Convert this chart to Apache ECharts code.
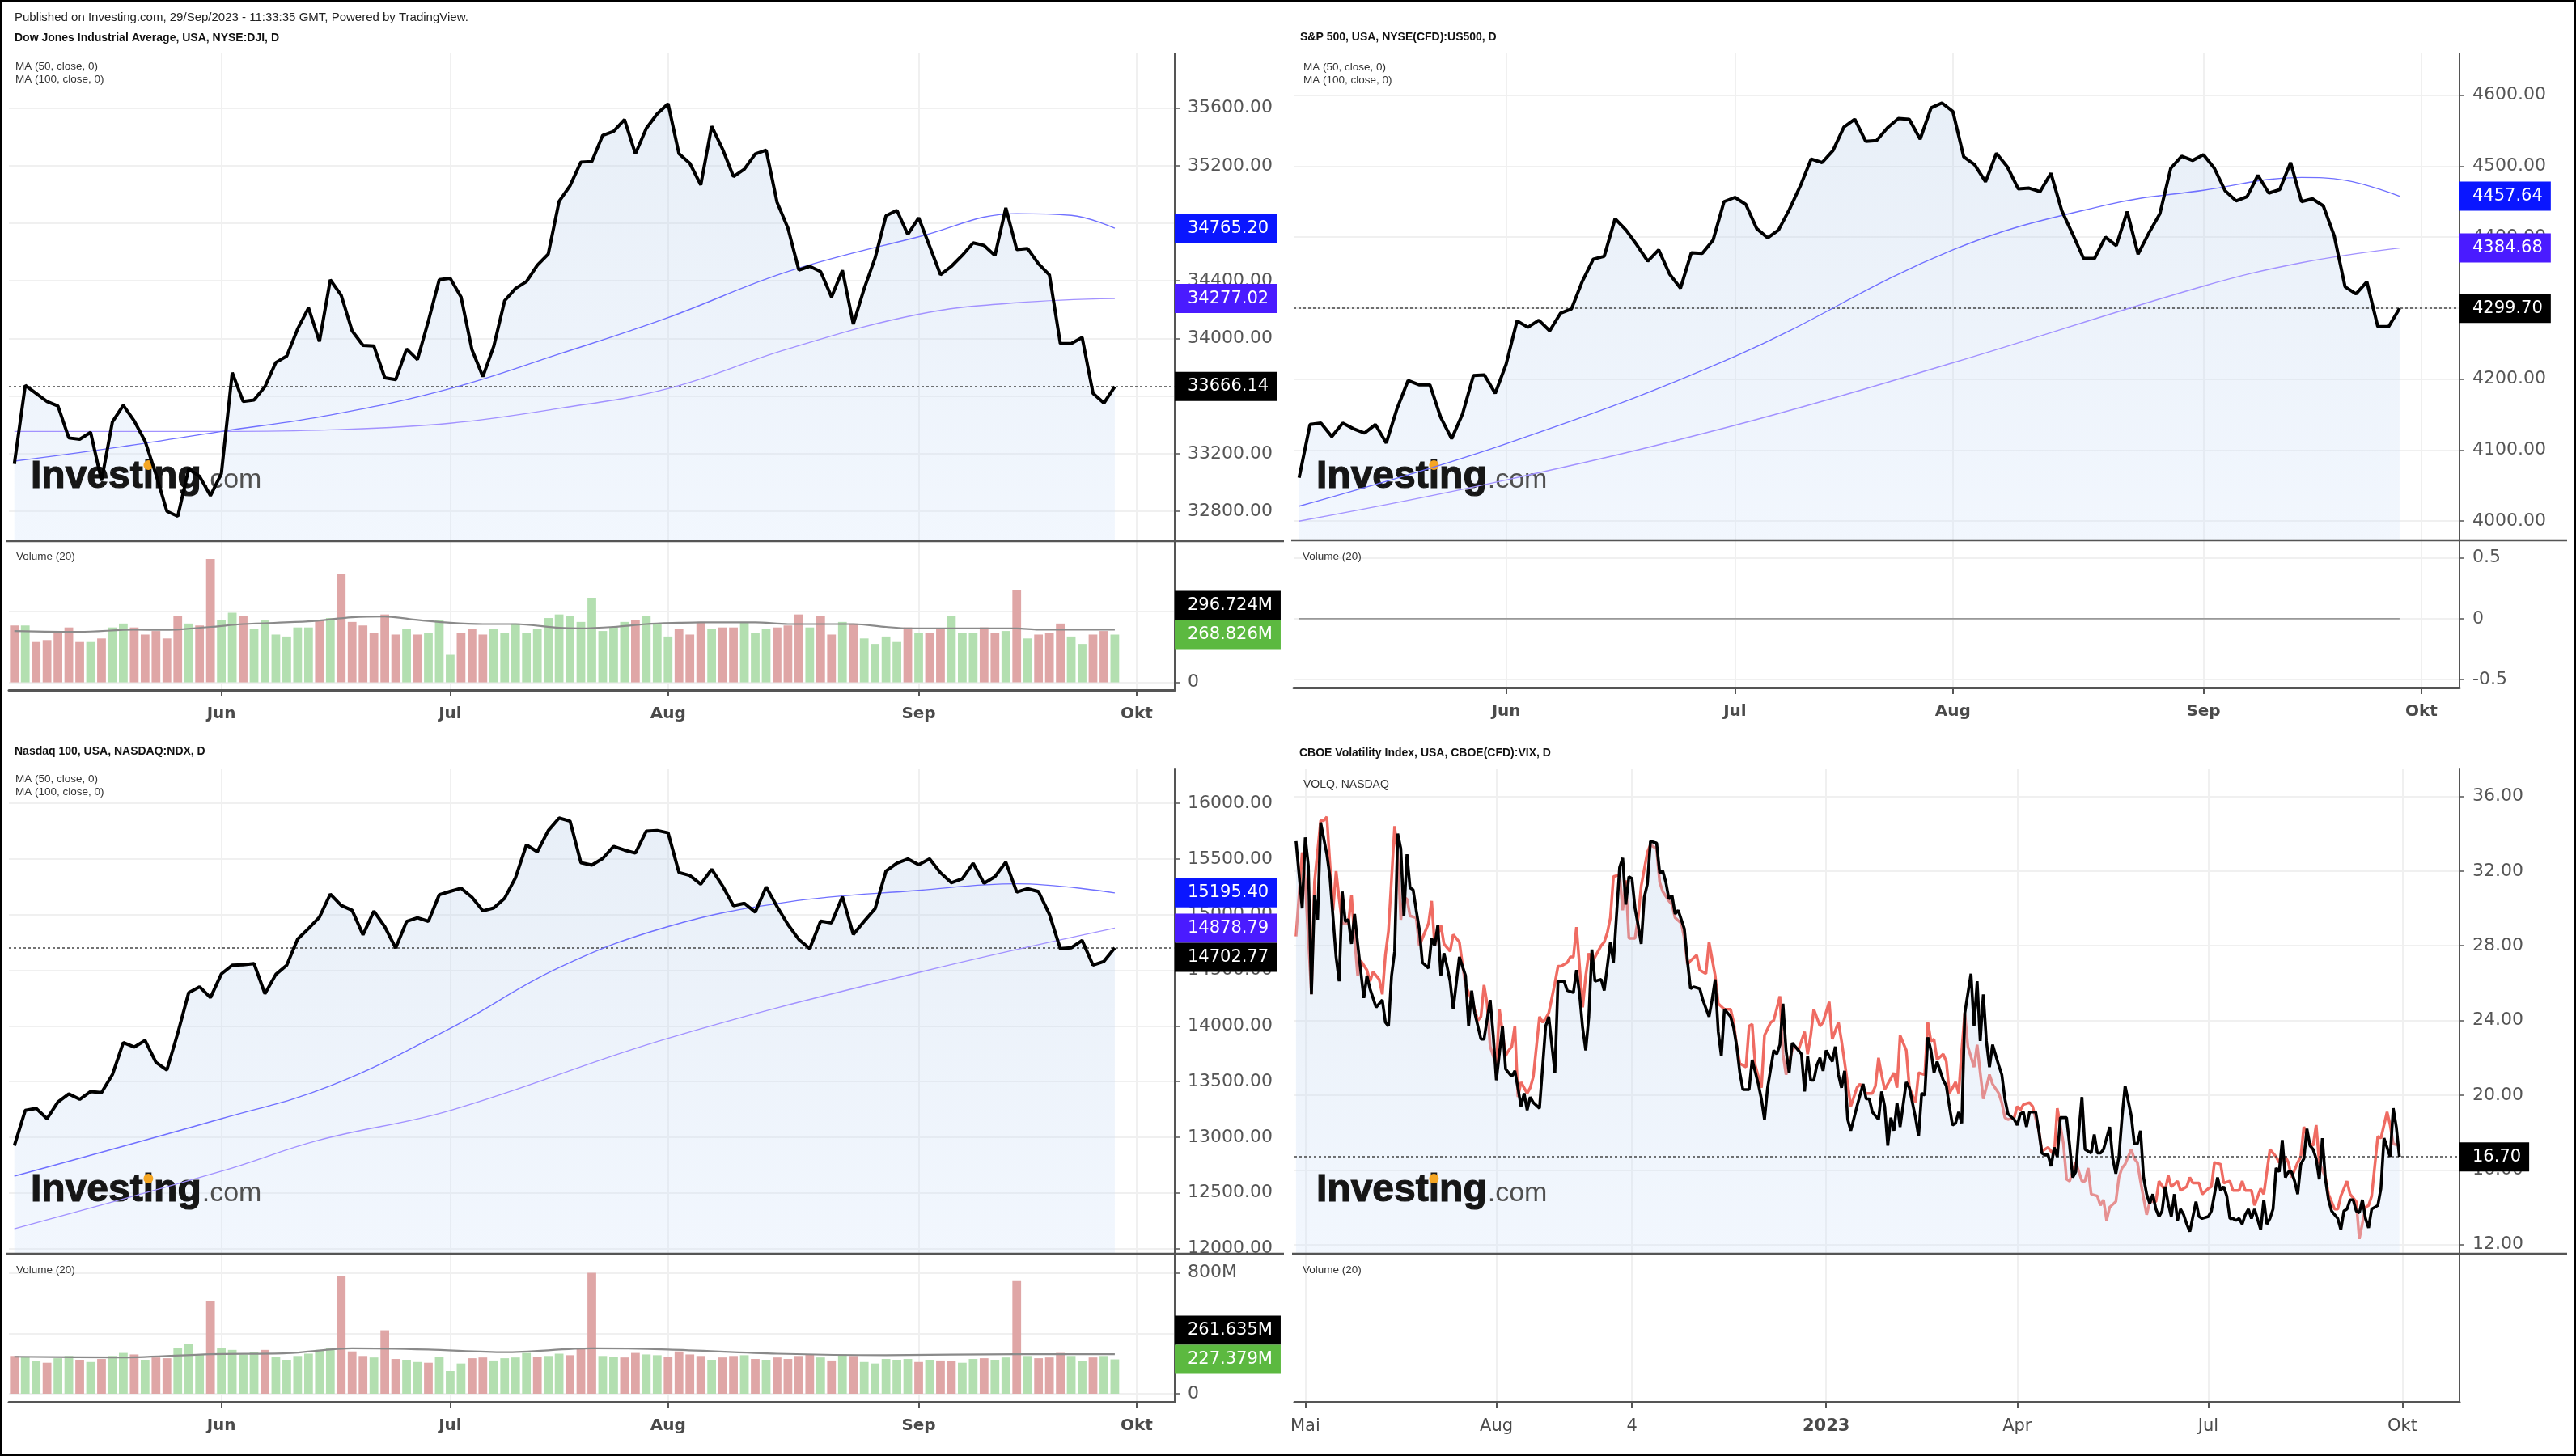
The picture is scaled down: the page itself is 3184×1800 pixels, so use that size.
<!DOCTYPE html>
<html><head><meta charset="utf-8"><title>Indices</title>
<script src="https://cdn.jsdelivr.net/npm/echarts@6.0.0/dist/echarts.min.js"></script>
<style>html,body{margin:0;padding:0;background:#fff;}#chart{width:3184px;height:1800px;}</style>
</head><body><div id="chart"></div>
<script>
// ---------------- DATA ----------------
const MONTHS_DE = ['Jan','Feb','Mär','Apr','Mai','Jun','Jul','Aug','Sep','Okt','Nov','Dez'];
const HOLIDAYS = ['2022-05-30','2022-06-20','2022-07-04','2022-09-05','2022-11-24','2022-12-26','2023-01-02','2023-01-16','2023-02-20','2023-04-07','2023-05-29','2023-06-19','2023-07-04','2023-09-04'];
const VIX_TICKS = {'2022-05-02':'Mai','2022-08-01':'Aug','2022-10-03':'4','2023-01-03':'2023','2023-04-03':'Apr','2023-07-03':'Jul','2023-10-02':'Okt'};

const DJI_PREV = 33414;
const DJI_CLOSE = [33128,33674,33618,33562,33531,33309,33300,33348,33012,33420,33535,33427,33286,33055,32800,32765,33093,33042,32908,
 33061,33762,33563,33573,33665,33833,33877,34066,34212,33979,34408,34299,34053,33952,33947,33727,33714,33927,33853,34122,34408,
 34418,34288,33922,33735,33945,34262,34347,34395,34509,34586,34952,35061,35225,35228,35411,35438,35520,35282,35459,35560,
 35630,35283,35216,35066,35474,35315,35124,35176,35281,35308,34946,34766,34475,34501,34464,34288,34473,34099,34347,34559,34852,34890,34722,
 34838,34641,34443,34501,34577,34664,34646,34576,34907,34618,34624,34518,34441,33964,33964,34007,33619,33551,33666.14];
const DJI_MA50 = [[0,33148],[9,33239],[19,33354],[29,33468],[40,33652],[50,33892],[60,34145],[71,34465],[83,34706],[92,34867],[97,34855],[101,34765.20]];
const DJI_MA100 = [[0,33354],[19,33354],[29,33365],[40,33411],[50,33514],[60,33652],[71,33927],[83,34168],[92,34248],[101,34277.02]];
const DJI_VOL = [320,320,227,238,281,309,227,227,247,309,331,309,269,289,247,372,331,320,694,351,
 392,372,300,351,269,258,309,309,351,362,610,340,320,278,382,269,300,269,278,351,
 155,278,300,269,300,278,331,278,300,362,382,372,340,476,289,309,340,351,372,331,
 258,300,269,340,300,309,309,340,278,300,309,320,382,309,372,269,340,331,247,216,
 258,227,309,278,278,300,372,278,278,309,278,289,518,247,269,278,331,258,216,269,289,268.826];
const DJI_VOLMA = [[0,289],[6,284],[11,297],[14,295],[18,312],[21,328],[27,343],[31,366],[34,371],[37,351],[40,335],[43,328],[46,328],[50,307],[52,304],[55,312],[58,328],[61,335],[63,338],[68,338],[71,328],[77,328],[80,312],[82,304],[92,304],[94,297],[100,297],[101,296.724]];

const SPX_CLOSE = [4061,4136,4138,4119,4138,4130,4124,4136,4110,4159,4198,4192,4192,4146,4116,4151,4205,4206,4180,
 4221,4282,4273,4283,4268,4293,4299,4338,4369,4373,4426,4410,4389,4366,4382,4348,4328,4378,4377,4396,4450,
 4456,4446,4412,4399,4410,4439,4472,4510,4505,4522,4555,4566,4535,4536,4554,4567,4566,4538,4582,4589,
 4577,4513,4502,4478,4518,4499,4468,4469,4464,4490,4437,4404,4370,4370,4400,4388,4436,4376,4406,4433,4497,4514,4508,
 4516,4497,4465,4451,4457,4487,4462,4467,4505,4450,4454,4444,4402,4330,4320,4337,4274,4274,4299.70];
const SPX_MA50 = [[0,4021],[19,4109],[40,4232],[60,4382],[74,4445],[83,4466],[92,4484],[96,4480],[101,4457.64]];
const SPX_MA100 = [[0,4000],[19,4058],[40,4135],[60,4223],[83,4331],[92,4364],[101,4384.68]];
const SPX_VOL0 = [[0,0],[101,0]];

const NDX_PREV = 12982;
const NDX_CLOSE = [12924,13240,13259,13166,13316,13389,13340,13410,13400,13562,13851,13810,13869,13672,13604,13935,14298,14352,14254,
 14467,14546,14550,14560,14289,14463,14546,14780,14876,14978,15185,15083,15039,14819,15032,14891,14700,14939,14972,14940,15179,
 15209,15237,15156,15034,15060,15148,15333,15627,15565,15755,15869,15841,15467,15445,15505,15614,15580,15553,15751,15757,
 15735,15379,15352,15274,15408,15258,15080,15102,15023,15249,15073,14911,14777,14694,14942,14925,15162,14822,14941,15054,15392,15463,15501,
 15449,15501,15377,15287,15323,15462,15282,15342,15472,15203,15233,15207,15002,14694,14702,14768,14546,14580,14702.77];
const NDX_MA50 = [[0,12650],[19,13166],[29,13461],[40,13978],[50,14524],[60,14893],[71,15114],[83,15218],[92,15277],[101,15195.40]];
const NDX_MA100 = [[0,12177],[19,12694],[28,12974],[40,13240],[60,13889],[83,14480],[101,14878.79]];
const NDX_VOL = [250,245,215,205,235,250,225,210,230,250,270,260,225,240,235,300,330,260,616,300,
 290,260,275,290,245,225,250,265,290,300,778,280,250,240,420,230,225,210,205,245,
 150,200,235,240,220,235,240,270,245,250,265,255,300,800,250,245,240,270,260,255,
 245,280,260,250,225,240,250,255,230,225,240,230,250,260,240,220,260,250,210,200,
 230,225,230,210,225,220,215,205,230,235,225,240,746,250,235,240,270,250,215,240,250,227.379];
const NDX_VOLMA = [[0,245],[10,240],[18,262],[25,268],[31,300],[38,292],[45,275],[53,300],[60,292],[70,265],[80,255],[92,262],[101,261.635]];

const VIX_LAST = 16.70;
const VIX_PTS = [[0,33.6],[2,30.0],[3,33.8],[4,32.3],[5,25.4],[6,30.7],[7,29.4],[8,34.6],[10,32.9],[11,31.7],[13,27.4],[14,26.1],[15,30.9],[16,29.3],[17,29.4],[18,28.1],[19,29.7],[20,28.1],[22,25.2],[23,26.4],[24,25.7],[26,24.7],[28,25.1],[29,23.9],[30,23.7],[31,26.4],[32,27.7],[33,34.0],[34,33.2],[35,29.6],[36,32.9],[37,31.1],[38,31.0],[39,29.9],[40,28.9],[41,27.1],[43,26.8],[44,28.4],[45,28.0],[46,29.1],[47,26.4],[48,27.6],[49,26.9],[50,26.1],[51,24.6],[52,26.0],[53,27.4],[55,26.4],[56,23.7],[57,25.6],[58,24.4],[60,23.0],[61,23.0],[63,25.1],[64,23.2],[65,20.8],[67,23.7],[68,21.4],[70,21.0],[71,21.3],[72,20.4],[73,19.4],[74,20.1],[75,19.2],[76,19.9],[77,19.6],[79,19.3],[81,23.7],[82,24.2],[84,21.2],[85,26.1],[87,26.1],[88,25.6],[90,25.5],[91,26.7],[92,25.4],[93,23.6],[94,22.4],[95,24.2],[96,27.8],[97,26.1],[99,26.2],[100,25.6],[101,26.9],[102,28.2],[103,27.1],[105,32.2],[106,32.7],[107,30.2],[108,31.7],[109,31.6],[110,30.0],[111,29.1],[112,28.1],[113,30.6],[114,31.3],[115,33.6],[117,33.5],[118,31.9],[119,32.0],[120,31.4],[121,30.5],[122,30.7],[123,29.7],[124,29.9],[126,28.9],[127,27.2],[128,25.7],[129,25.8],[131,25.7],[132,25.1],[134,24.2],[135,25.1],[136,26.2],[137,23.4],[138,22.1],[139,24.6],[141,24.2],[142,23.6],[143,22.6],[144,21.2],[145,20.3],[147,20.3],[148,21.9],[150,20.6],[151,19.8],[152,18.7],[153,20.4],[155,22.4],[156,22.2],[157,22.7],[158,24.9],[159,22.4],[160,21.2],[161,22.8],[162,22.6],[164,22.2],[165,20.2],[166,22.1],[167,20.8],[168,20.8],[169,21.6],[170,22.0],[171,21.3],[172,22.4],[174,21.8],[175,22.6],[176,21.1],[177,20.4],[178,21.3],[179,18.7],[180,18.1],[182,19.4],[184,20.6],[185,19.8],[186,19.8],[187,19.1],[188,18.9],
 [189,18.7],[190,20.2],[191,19.4],[192,17.3],[193,18.8],[194,18.1],[195,19.6],[196,18.3],[198,20.7],[199,20.4],[201,18.8],[202,17.8],[203,20.1],[204,20.0],[205,23.1],[206,22.4],[207,21.2],[208,21.8],[210,20.8],[211,20.5],[212,19.4],[213,18.4],[214,18.5],[215,19.1],[216,18.5],[217,24.4],[219,26.5],[220,23.7],[221,26.1],[222,22.9],[223,25.4],[224,22.9],[225,21.5],[226,22.7],[228,21.6],[229,21.1],[230,19.8],[231,19.0],[233,18.7],[234,18.4],[235,19.0],[236,19.1],[237,18.3],[238,19.1],[240,19.1],[241,18.1],[242,16.9],[243,16.8],[244,16.8],[245,16.2],[246,17.2],[247,16.7],[248,18.8],[250,18.8],[251,17.3],[252,15.6],[253,15.9],[254,18.1],[255,19.9],[256,17.1],[258,16.9],[259,17.9],[260,16.9],[261,16.9],[262,17.1],[264,18.3],[265,16.6],[266,15.8],[267,16.7],[268,18.8],[269,20.5],[271,18.9],[272,17.4],[273,17.4],[274,18.1],[275,15.6],[276,14.7],[277,14.2],[278,14.7],[279,13.9],[280,13.5],[281,13.8],[282,15.1],[283,14.2],[284,13.5],[285,14.7],[286,13.3],[287,13.9],[288,13.6],[289,13.1],[290,12.7],[291,13.5],[292,14.3],[293,13.5],[294,13.4],[296,13.5],[297,13.8],[299,15.6],[300,14.9],[301,15.1],[302,14.6],[303,13.4],[304,13.4],[305,13.3],[306,13.4],[307,13.1],[308,13.6],[309,13.9],[310,13.4],[311,13.9],[313,12.8],[314,14.4],[315,13.1],[316,13.4],[317,13.9],[318,16.1],[319,15.9],[320,17.6],[321,15.6],[322,15.9],[323,15.9],[324,15.4],[325,14.7],[326,16.3],[327,16.6],[328,18.2],[329,17.3],[330,17.1],[331,16.6],[332,15.5],[333,17.7],[334,15.5],[335,14.4],[336,13.8],[338,13.4],[339,12.8],[340,13.8],[341,13.9],[342,14.4],[343,14.4],[344,13.8],[345,13.7],[346,14.4],[347,13.4],[348,12.9],[349,13.9],[350,14.0],[351,14.1],[352,15.0],[353,17.7],[354,17.2],[355,16.7],[356,19.3],[357,18.3],[358,16.70]];
const VOLQ_PTS = [[0,28.5],[2,33.0],[3,31.4],[5,25.4],[6,31.4],[8,34.7],[9,34.7],[10,34.9],[11,32.4],[12,29.9],[13,32.0],[14,30.5],[15,29.2],[17,29.2],[18,30.7],[19,28.4],[20,26.4],[21,27.2],[23,26.7],[24,26.1],[25,26.6],[27,26.2],[28,25.4],[29,27.5],[30,28.8],[32,34.4],[33,32.9],[34,29.4],[35,30.6],[36,30.5],[37,29.6],[39,29.5],[40,28.0],[41,28.4],[43,29.2],[44,30.4],[45,28.0],[46,28.6],[47,29.1],[48,28.1],[50,27.7],[51,28.6],[53,28.2],[54,27.0],[55,25.9],[57,25.1],[59,24.0],[60,24.2],[61,25.9],[62,24.9],[63,22.6],[65,21.6],[66,24.6],[68,22.1],[69,22.4],[70,22.6],[71,23.7],[72,19.9],[73,20.7],[75,20.1],[76,20.4],[77,21.0],[79,24.2],[80,23.9],[81,24.1],[82,24.4],[84,26.0],[85,26.9],[86,26.9],[88,27.1],[89,27.4],[90,27.4],[91,29.0],[92,26.9],[93,24.7],[94,26.4],[95,27.6],[96,27.1],[97,27.4],[99,28.0],[100,28.2],[101,28.7],[102,29.5],[103,31.7],[105,31.8],[106,29.9],[107,31.5],[108,28.4],[110,28.4],[111,29.5],[112,31.2],[114,33.0],[115,33.4],[117,33.2],[118,31.4],[119,30.9],[121,30.4],[122,30.2],[123,29.5],[125,29.2],[126,28.4],[127,27.0],[128,27.2],[130,27.5],[131,26.7],[133,26.5],[134,28.2],[136,26.4],[137,24.9],[139,24.6],[141,24.6],[142,23.9],[143,22.6],[144,21.7],[146,21.5],[147,23.7],[148,23.8],[149,21.6],[151,20.4],[152,23.2],[154,23.9],[155,24.0],[157,25.3],[158,22.2],[159,21.1],[161,22.4],[162,22.6],[163,22.4],[165,23.4],[166,22.2],[167,23.2],[168,24.6],[170,23.7],[171,23.9],[173,25.0],[174,23.0],[176,23.9],[177,22.9],[179,20.6],[180,19.4],[182,20.4],[183,20.6],[185,20.1],[187,20.1],[188,20.5],
 [189,22.0],[190,21.1],[191,20.3],[192,20.6],[194,21.2],[195,20.4],[196,23.2],[198,22.4],[199,20.4],[201,19.6],[202,21.2],[204,21.1],[205,23.9],[206,22.9],[207,23.0],[208,21.9],[210,22.2],[211,21.8],[212,20.1],[214,20.7],[215,20.1],[216,22.4],[217,24.4],[218,22.6],[220,21.5],[221,22.7],[222,21.2],[223,19.8],[225,21.1],[226,20.6],[228,20.1],[229,19.6],[230,18.8],[231,18.7],[233,18.8],[234,19.4],[235,19.2],[236,19.5],[238,19.6],[239,19.4],[241,18.1],[242,17.0],[244,17.2],[246,16.8],[247,19.3],[249,17.4],[250,15.5],[251,15.4],[252,15.9],[253,16.4],[255,15.4],[256,15.4],[257,16.1],[258,14.7],[260,14.6],[261,14.1],[262,14.4],[263,13.3],[264,14.0],[266,14.3],[267,15.6],[268,16.1],[269,16.3],[271,17.1],[272,16.6],[273,16.4],[274,15.4],[276,13.6],[277,14.3],[279,14.3],[280,15.4],[282,14.9],[283,15.7],[284,15.1],[286,15.4],[287,14.9],[289,15.1],[290,15.6],[291,15.3],[293,15.3],[294,14.7],[296,15.0],[297,15.1],[298,16.4],[300,16.3],[301,15.3],[303,15.4],[304,14.9],[306,14.9],[307,15.4],[308,14.9],[310,14.9],[311,14.1],[313,15.0],[314,14.7],[316,17.1],[318,16.7],[319,16.4],[321,16.7],[322,16.4],[323,15.6],[325,16.4],[326,16.7],[327,18.3],[329,17.4],[330,17.3],[331,18.4],[332,16.4],[334,15.6],[335,14.7],[337,13.9],[338,13.9],[339,14.6],[341,15.4],[342,14.7],[344,14.3],[345,12.3],[347,14.0],[348,14.1],[349,14.6],[351,17.8],[352,17.7],[354,19.1],[355,18.4],[356,17.4],[358,17.3]];

const TICKS_DJI = [32800,33200,33600,34000,34400,34800,35200,35600];
const TICKS_SPX = [4000,4100,4200,4300,4400,4500,4600];
const TICKS_NDX = [12000,12500,13000,13500,14000,14500,15000,15500,16000];
const TICKS_VIX = [12,16,20,24,28,32,36];
const TICKS_VOL_TL = [0,400];
const TICKS_VOL_BL = [0,400,800];
const TICKS_VOL_TR = [-0.5,0,0.5];

// ---------------- HELPERS ----------------
function tradingDays(start, n) {
  const out = []; const d = new Date(start + 'T00:00:00Z');
  while (out.length < n) {
    const wd = d.getUTCDay(); const s = d.toISOString().slice(0, 10);
    if (wd !== 0 && wd !== 6 && HOLIDAYS.indexOf(s) < 0) out.push(s);
    d.setUTCDate(d.getUTCDate() + 1);
  }
  return out;
}
const DAYS_TOP = tradingDays('2023-05-04', 107);
const DAYS_VIX = tradingDays('2022-04-27', 378);
const monthStart = (i) => i > 0 && DAYS_TOP[i].slice(5, 7) !== DAYS_TOP[i - 1].slice(5, 7);
const monthName = (v) => MONTHS_DE[parseInt(v.slice(5, 7), 10) - 1];
const vixTick = (i, v) => VIX_TICKS[v] !== undefined;

const FA = 'DejaVu Sans', FT = 'Liberation Sans';
const GRID_C = '#f0f0f0', AX_C = '#555';
const UP = '#b3dfb0', DOWN = '#dfa6a6';
const MA50_C = '#7070ff', MA100_C = '#a292ff';
const AREA = new echarts.graphic.LinearGradient(0, 0, 0, 1, [
  {offset: 0, color: 'rgba(182,204,231,0.45)'}, {offset: 1, color: 'rgba(213,229,251,0.45)'}]);

const P = {
  tl: {x: 11, w: 1441, pTop: 66, pBot: 669, vBot: 853},
  tr: {x: 1599, w: 1441, pTop: 66, pBot: 668, vBot: 850},
  bl: {x: 11, w: 1441, pTop: 951, pBot: 1550, vBot: 1733},
  br: {x: 1600, w: 1440, pTop: 951, pBot: 1550, vBot: 1733}
};
const grids = [], xAxes = [], yAxes = [], series = [];
function addGrid(p, top, bot) { grids.push({left: p.x, top: top, width: p.w, height: bot - top}); return grids.length - 1; }
function addX(gi, cats, fn, fmt, show, big) {
  xAxes.push({type: 'category', gridIndex: gi, data: cats, boundaryGap: true,
    axisLine: {show: show, onZero: false, lineStyle: {color: AX_C, width: 3}},
    axisTick: {show: show, interval: fn, alignWithLabel: true, length: 8, lineStyle: {color: AX_C, width: 2}},
    axisLabel: {show: show, interval: fn, formatter: fmt, margin: 20, color: '#4a4a4a',
      fontSize: big ? 21 : 20, fontWeight: big ? 'normal' : 'bold', fontFamily: FA,
      rich: {b: {fontSize: 21, fontWeight: 'bold', fontFamily: FA, color: '#4a4a4a'}}},
    splitLine: {show: true, interval: fn, alignWithLabel: true, lineStyle: {color: GRID_C, width: 2}}
  });
  return xAxes.length - 1;
}
function addY(gi, min, max, ticks, fmt, split) {
  yAxes.push({type: 'value', gridIndex: gi, position: 'right', min: min, max: max,
    axisLine: {show: true, onZero: false, lineStyle: {color: AX_C, width: 2}},
    axisTick: {show: ticks.length > 0, length: 6, customValues: ticks, lineStyle: {color: AX_C, width: 1.5}},
    axisLabel: {show: ticks.length > 0, customValues: ticks, formatter: fmt, margin: 16, color: '#555', fontSize: 22, fontFamily: FA},
    splitLine: {show: split, lineStyle: {color: GRID_C, width: 2}}
  });
  return yAxes.length - 1;
}
const f2 = v => Number(v).toFixed(2);
const fM = v => (v === 0 ? '0' : v + 'M');
const topFmt = v => monthName(v);
const lastLine = (v) => ({symbol: ['none', 'none'], silent: true, animation: false, label: {show: false},
  lineStyle: {color: '#444', type: [3, 3], width: 1.5}, data: [{yAxis: v}]});
function volColors(close, prev, vols) {
  return vols.map((v, i) => ({value: v, itemStyle: {color: close[i] >= (i ? close[i - 1] : prev) ? UP : DOWN}}));
}
function pricePanel(p, close, ma50, ma100, yMin, yMax, ticks) {
  const g = addGrid(p, p.pTop, p.pBot);
  const xa = addX(g, DAYS_TOP, monthStart, topFmt, false);
  const ya = addY(g, yMin, yMax, ticks, f2, true);
  series.push({type: 'line', xAxisIndex: xa, yAxisIndex: ya, data: close, showSymbol: false, silent: true,
    lineStyle: {opacity: 0}, areaStyle: {origin: 'start', color: AREA}, z: 2});
  series.push({type: 'line', xAxisIndex: xa, yAxisIndex: ya, data: ma100, showSymbol: false, silent: true, smooth: 0.4,
    lineStyle: {color: MA100_C, width: 1.4}, z: 5});
  series.push({type: 'line', xAxisIndex: xa, yAxisIndex: ya, data: ma50, showSymbol: false, silent: true, smooth: 0.4,
    lineStyle: {color: MA50_C, width: 1.4}, z: 5});
  series.push({type: 'line', xAxisIndex: xa, yAxisIndex: ya, data: close, showSymbol: false, silent: true,
    lineStyle: {color: '#000', width: 4}, z: 6, markLine: lastLine(close[close.length - 1])});
  return ya;
}

// ---------------- PANELS ----------------
// TL: Dow Jones
const yTL = pricePanel(P.tl, DJI_CLOSE, DJI_MA50, DJI_MA100, 32592, 35980, TICKS_DJI);
const gTLv = addGrid(P.tl, P.tl.pBot, P.tl.vBot);
const xTLv = addX(gTLv, DAYS_TOP, monthStart, topFmt, true);
const yTLv = addY(gTLv, -42.8, 794.4, TICKS_VOL_TL, fM, true);
series.push({type: 'bar', xAxisIndex: xTLv, yAxisIndex: yTLv, data: volColors(DJI_CLOSE, DJI_PREV, DJI_VOL), barCategoryGap: '20%', silent: true, z: 3});
series.push({type: 'line', xAxisIndex: xTLv, yAxisIndex: yTLv, data: DJI_VOLMA, showSymbol: false, silent: true, smooth: 0.3, lineStyle: {color: '#8a8a8a', width: 2.2}, z: 4});

// TR: S&P 500
const yTR = pricePanel(P.tr, SPX_CLOSE, SPX_MA50, SPX_MA100, 3972.9, 4658.8, TICKS_SPX);
const gTRv = addGrid(P.tr, P.tr.pBot, P.tr.vBot);
const xTRv = addX(gTRv, DAYS_TOP, monthStart, topFmt, true);
const yTRv = addY(gTRv, -0.566, 0.644, TICKS_VOL_TR, v => String(v), true);
series.push({type: 'line', xAxisIndex: xTRv, yAxisIndex: yTRv, data: SPX_VOL0, showSymbol: false, silent: true, lineStyle: {color: '#999', width: 1.6}, z: 4});

// BL: Nasdaq 100
const yBL = pricePanel(P.bl, NDX_CLOSE, NDX_MA50, NDX_MA100, 11952, 16306.8, TICKS_NDX);
const gBLv = addGrid(P.bl, P.bl.pBot, P.bl.vBot);
const xBLv = addX(gBLv, DAYS_TOP, monthStart, topFmt, true);
const yBLv = addY(gBLv, -53.6, 926.4, TICKS_VOL_BL, fM, true);
series.push({type: 'bar', xAxisIndex: xBLv, yAxisIndex: yBLv, data: volColors(NDX_CLOSE, NDX_PREV, NDX_VOL), barCategoryGap: '20%', silent: true, z: 3});
series.push({type: 'line', xAxisIndex: xBLv, yAxisIndex: yBLv, data: NDX_VOLMA, showSymbol: false, silent: true, smooth: 0.3, lineStyle: {color: '#8a8a8a', width: 2.2}, z: 4});

// BR: VIX
const gBR = addGrid(P.br, P.br.pTop, P.br.pBot);
const xBR = addX(gBR, DAYS_VIX, vixTick, v => VIX_TICKS[v], false, true);
const yBR = addY(gBR, 11.51, 37.45, TICKS_VIX, f2, true);
series.push({type: 'line', xAxisIndex: xBR, yAxisIndex: yBR, data: VOLQ_PTS, showSymbol: false, silent: true, lineStyle: {color: '#ef6b62', width: 3.5}, z: 2});
series.push({type: 'line', xAxisIndex: xBR, yAxisIndex: yBR, data: VIX_PTS, showSymbol: false, silent: true, lineStyle: {opacity: 0}, areaStyle: {origin: 'start', color: AREA}, z: 3});
series.push({type: 'line', xAxisIndex: xBR, yAxisIndex: yBR, data: VIX_PTS, showSymbol: false, silent: true, lineStyle: {color: '#000', width: 3.6}, z: 6, markLine: lastLine(VIX_LAST)});
const gBRv = addGrid(P.br, P.br.pBot, P.br.vBot);
const xBRv = addX(gBRv, DAYS_VIX, vixTick, v => (VIX_TICKS[v] === '2023' ? '{b|2023}' : VIX_TICKS[v]), true, true);
const yBRv = addY(gBRv, 0, 1, [], v => '', false);

const chart = echarts.init(document.getElementById('chart'), null, {renderer: 'canvas', width: 3184, height: 1800});
chart.setOption({animation: false, backgroundColor: '#fff', textStyle: {fontFamily: FA},
  grid: grids, xAxis: xAxes, yAxis: yAxes, series: series});

// ---------------- OVERLAY TEXT / LABELS ----------------
const G = [];
function txt(x, y, text, font, fill, z) {
  G.push({type: 'text', x: x, y: y, z: z || 10, silent: true,
    style: {text: text, font: font, fill: fill, align: 'left', verticalAlign: 'middle'}});
}
function hline(x1, x2, y, w, c) {
  G.push({type: 'line', z: 8, silent: true, shape: {x1: x1, y1: y, x2: x2, y2: y}, style: {stroke: c, lineWidth: w}});
}
txt(18, 22, 'Published on Investing.com, 29/Sep/2023 - 11:33:35 GMT, Powered by TradingView.', '15px "Liberation Sans"', '#222');
txt(18, 47, 'Dow Jones Industrial Average, USA, NYSE:DJI, D', 'bold 14px "Liberation Sans"', '#111');
txt(1607, 46, 'S&P 500, USA, NYSE(CFD):US500, D', 'bold 14px "Liberation Sans"', '#111');
txt(18, 929, 'Nasdaq 100, USA, NASDAQ:NDX, D', 'bold 14px "Liberation Sans"', '#111');
txt(1606, 931, 'CBOE Volatility Index, USA, CBOE(CFD):VIX, D', 'bold 14px "Liberation Sans"', '#111');
[[19, 82], [1611, 83], [19, 963]].forEach(([x, y]) => {
  txt(x, y, 'MA (50, close, 0)', '13.5px "Liberation Sans"', '#333');
  txt(x, y + 16, 'MA (100, close, 0)', '13.5px "Liberation Sans"', '#333');
});
txt(1611, 970, 'VOLQ, NASDAQ', '14px "Liberation Sans"', '#333');
[[20, 688], [1610, 688], [20, 1570], [1610, 1570]].forEach(([x, y]) => txt(x, y, 'Volume (20)', '13.5px "Liberation Sans"', '#333'));

// separators and frame
hline(P.tl.x - 3, 1587, P.tl.pBot, 2.5, AX_C);
hline(P.tr.x - 3, 3173, P.tr.pBot, 2.5, AX_C);
hline(P.bl.x - 3, 1587, P.bl.pBot, 2.5, AX_C);
hline(P.br.x - 3, 3173, P.br.pBot, 2.5, AX_C);
G.push({type: 'rect', z: 30, silent: true, shape: {x: 1, y: 1, width: 3182, height: 1798}, style: {fill: 'transparent', stroke: '#000', lineWidth: 2}});

// watermark logos
const mctx = document.createElement('canvas').getContext('2d');
function logo(x, base) {
  mctx.font = 'bold 48px "Liberation Sans"';
  const wAll = mctx.measureText('Investing').width;
  const wInv = mctx.measureText('Invest').width;
  const wi = mctx.measureText('i').width;
  G.push({type: 'text', x: x, y: base - 16, z: 4, silent: true, style: {text: 'Investing', font: 'bold 48px "Liberation Sans"', fill: '#161616', stroke: '#161616', lineWidth: 1.2, verticalAlign: 'middle'}});
  G.push({type: 'text', x: x + wAll + 1, y: base - 12, z: 4, silent: true, style: {text: '.com', font: '34px "Liberation Sans"', fill: '#505050', verticalAlign: 'middle'}});
  G.push({type: 'circle', z: 5, silent: true, shape: {cx: x + wInv + wi / 2, cy: base - 31, r: 6}, style: {fill: '#f5a623'}});
}
logo(38, 606); logo(1627, 606); logo(38, 1488); logo(1627, 1488);

// axis value boxes (positions from the axes' own scales)
function boxes(list, axisX) {
  const H = 36;
  list.forEach(it => { it.y = chart.convertToPixel({yAxisIndex: it.ya}, it.v); });
  list.filter(it => !it.fixed).forEach(it => {
    list.filter(f => f.fixed && f.ya === it.ya).forEach(f => {
      if (Math.abs(it.y - f.y) < H) it.y = it.y < f.y ? f.y - H : f.y + H;
    });
  });
  list.forEach(it => G.push({type: 'text', x: axisX, y: it.y, z: 20, silent: true,
    style: {text: it.t, font: '21px "DejaVu Sans"', fill: '#fff', backgroundColor: it.bg, padding: [7, 10, 7, 16],
      lineHeight: 22, align: 'left', verticalAlign: 'middle'}}));
}
const BLUE = '#0a16ff', PURP = '#4a1bff', BLK = '#000', GRN = '#5cb940';
boxes([{ya: yTL, v: 34765.20, t: '34765.20', bg: BLUE, fixed: true}, {ya: yTL, v: 34277.02, t: '34277.02', bg: PURP, fixed: true},
  {ya: yTL, v: 33666.14, t: '33666.14', bg: BLK, fixed: true},
  {ya: yTLv, v: 296.724, t: '296.724M', bg: BLK, fixed: false}, {ya: yTLv, v: 268.826, t: '268.826M', bg: GRN, fixed: true}],
  P.tl.x + P.tl.w);
boxes([{ya: yTR, v: 4457.64, t: '4457.64', bg: BLUE, fixed: true}, {ya: yTR, v: 4384.68, t: '4384.68', bg: PURP, fixed: true},
  {ya: yTR, v: 4299.70, t: '4299.70', bg: BLK, fixed: true}], P.tr.x + P.tr.w);
boxes([{ya: yBL, v: 15195.40, t: '15195.40', bg: BLUE, fixed: true}, {ya: yBL, v: 14878.79, t: '14878.79', bg: PURP, fixed: true},
  {ya: yBL, v: 14702.77, t: '14702.77', bg: BLK, fixed: false},
  {ya: yBLv, v: 261.635, t: '261.635M', bg: BLK, fixed: false}, {ya: yBLv, v: 227.379, t: '227.379M', bg: GRN, fixed: true}],
  P.bl.x + P.bl.w);
boxes([{ya: yBR, v: VIX_LAST, t: '16.70', bg: BLK, fixed: true}], P.br.x + P.br.w);

chart.setOption({graphic: {elements: G}});
</script></body></html>
